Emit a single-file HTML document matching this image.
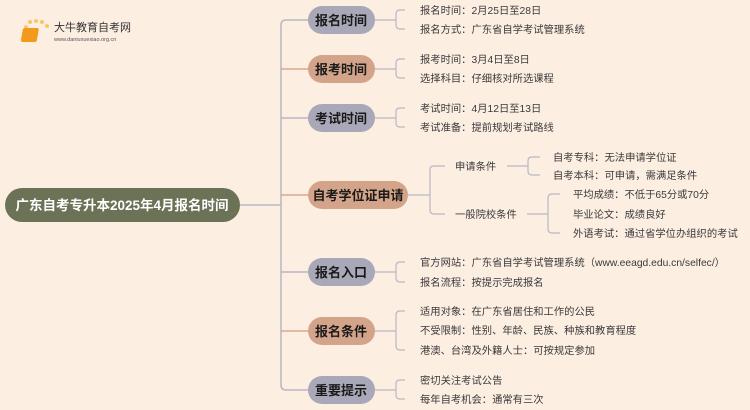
<!DOCTYPE html>
<html><head><meta charset="utf-8"><style>
body{margin:0;background:#fdeee2;}
svg{display:block;font-family:"Liberation Sans","Noto Sans CJK SC",sans-serif;}
.l{font-size:10.3px;fill:#3a3a3a}
.b{font-size:13px;font-weight:bold;fill:#1a1a1a;text-anchor:middle}
</style></head><body>
<svg width="750" height="410" viewBox="0 0 750 410" xmlns="http://www.w3.org/2000/svg">
<rect width="750" height="410" fill="#fdeee2"/>
<g>
<circle cx="26" cy="27" r="2" fill="#f7c86a"/><circle cx="30" cy="22" r="2" fill="#f7c86a"/><circle cx="36" cy="21" r="2" fill="#f7c86a"/><circle cx="42" cy="22" r="2" fill="#f7c86a"/><circle cx="47" cy="26" r="2" fill="#f7c86a"/>
<rect x="28" y="28" width="16" height="14" rx="2" fill="#f29a1e" transform="skewX(-10)"/>
<text x="54" y="31" font-size="11" fill="#333">大牛教育自考网</text>
<text x="54" y="41" font-size="5.5" fill="#555">www.daniuxuexiao.org.cn</text>
</g>
<g fill="none" stroke-width="1.5">
<path d="M240 205 H281" stroke="#b9b7c6"/>
<path d="M308 20 H286 Q281 20 281 25 V205" stroke="#b9b7c6"/>
<path d="M281 69 H308" stroke="#dba78c"/>
<path d="M281 118 H308" stroke="#b9b7c6"/>
<path d="M281 195 H308" stroke="#dba78c"/>
<path d="M281 205 V385 Q281 390 286 390 H308" stroke="#b9b7c6"/>
<path d="M281 272 H308" stroke="#b9b7c6"/>
<path d="M281 331 H308" stroke="#dba78c"/>
</g>
<g fill="none" stroke="#b9b7c6" stroke-width="1.2">
<path d="M375 20 H396 M405 10 H400 Q396 10 396 14 V25 Q396 29 400 29 H405"/>
<path d="M375 69 H396 M405 59 H400 Q396 59 396 63 V74 Q396 78 400 78 H405"/>
<path d="M375 118 H396 M405 108 H400 Q396 108 396 112 V123 Q396 127 400 127 H405"/>
<path d="M408 195 H430 M445 166 H434 Q430 166 430 170 V210 Q430 214 434 214 H445"/>
<path d="M507 166 H528 M540 157 H532 Q528 157 528 161 V171 Q528 175 532 175 H540"/>
<path d="M527 214 H548 M560 194 H552 Q548 194 548 198 V229 Q548 233 552 233 H560"/>
<path d="M375 272 H396 M405 262 H400 Q396 262 396 266 V278 Q396 282 400 282 H405"/>
<path d="M375 331 H396 M405 311 H400 Q396 311 396 315 V346 Q396 350 400 350 H405"/>
<path d="M375 390 H396 M405 380 H400 Q396 380 396 384 V395 Q396 399 400 399 H405"/>
</g>
<rect x="5" y="188" width="235" height="34" rx="17" fill="#6b7256"/>
<text x="122" y="210" font-size="13.5" font-weight="bold" fill="#fff" text-anchor="middle">广东自考专升本2025年4月报名时间</text>
<rect x="308" y="6" width="67" height="28" rx="14" fill="#a9a8b8"/><text class="b" x="341" y="25">报名时间</text>
<rect x="308" y="55" width="67" height="28" rx="14" fill="#d4a48a"/><text class="b" x="341" y="74">报考时间</text>
<rect x="308" y="104" width="67" height="28" rx="14" fill="#a9a8b8"/><text class="b" x="341" y="123">考试时间</text>
<rect x="308" y="181" width="100" height="28" rx="14" fill="#d4a48a"/><text class="b" x="358" y="200">自考学位证申请</text>
<rect x="308" y="258" width="67" height="28" rx="14" fill="#a9a8b8"/><text class="b" x="341" y="277">报名入口</text>
<rect x="308" y="317" width="67" height="28" rx="14" fill="#d4a48a"/><text class="b" x="341" y="336">报名条件</text>
<rect x="308" y="376" width="67" height="28" rx="14" fill="#a9a8b8"/><text class="b" x="341" y="395">重要提示</text>
<g>
<text class="l" x="420" y="14">报名时间：2月25日至28日</text>
<text class="l" x="420" y="33">报名方式：广东省自学考试管理系统</text>
<text class="l" x="420" y="63">报考时间：3月4日至8日</text>
<text class="l" x="420" y="82">选择科目：仔细核对所选课程</text>
<text class="l" x="420" y="112">考试时间：4月12日至13日</text>
<text class="l" x="420" y="131">考试准备：提前规划考试路线</text>
<text class="l" x="455" y="170">申请条件</text>
<text class="l" x="455" y="218">一般院校条件</text>
<text class="l" x="553" y="161">自考专科：无法申请学位证</text>
<text class="l" x="553" y="179">自考本科：可申请，需满足条件</text>
<text class="l" x="573" y="198">平均成绩：不低于65分或70分</text>
<text class="l" x="573" y="218">毕业论文：成绩良好</text>
<text class="l" x="573" y="237">外语考试：通过省学位办组织的考试</text>
<text class="l" x="420" y="266">官方网站：广东省自学考试管理系统（www.eeagd.edu.cn/selfec/）</text>
<text class="l" x="420" y="286">报名流程：按提示完成报名</text>
<text class="l" x="420" y="315">适用对象：在广东省居住和工作的公民</text>
<text class="l" x="420" y="334">不受限制：性别、年龄、民族、种族和教育程度</text>
<text class="l" x="420" y="354">港澳、台湾及外籍人士：可按规定参加</text>
<text class="l" x="420" y="384">密切关注考试公告</text>
<text class="l" x="420" y="403">每年自考机会：通常有三次</text>
</g>
</svg>
</body></html>
